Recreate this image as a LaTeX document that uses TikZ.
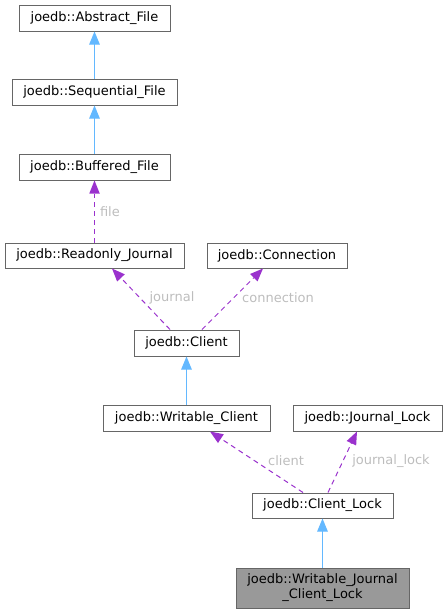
\documentclass[tikz,border=0pt]{standalone}
\usepackage{fontspec}
\setmainfont{DejaVu Sans}
\usetikzlibrary{arrows.meta,calc}
\definecolor{inh}{HTML}{63B8FF}
\definecolor{dep}{HTML}{9A32CD}
\definecolor{lbl}{HTML}{BDBDBD}
\definecolor{bord}{HTML}{666666}
\tikzset{
  cls/.style={draw=bord, line width=1pt, fill=white, inner sep=0pt, align=center, font=\fontsize{13}{15}\selectfont},
  inhe/.style={draw=inh, line width=1pt, -{Triangle[length=13pt,width=10.5pt]}},
  depe/.style={draw=dep, line width=1pt, dash pattern=on 5pt off 4pt, -{Triangle[length=13pt,width=10.5pt,fill=dep,line width=0pt]}},
  elbl/.style={text=lbl, font=\fontsize{13}{15}\selectfont, inner sep=0pt}
}
\begin{document}
\begin{tikzpicture}[x=1pt,y=-1pt]
\useasboundingbox (0,0) rectangle (447,613);
\node[cls, minimum width=151pt, minimum height=26pt] (abs) at (94.5,18) {joedb::Abstract\_File};
\node[cls, minimum width=165pt, minimum height=26pt] (seq) at (94.5,92) {joedb::Sequential\_File};
\node[cls, minimum width=151pt, minimum height=26pt] (buf) at (94.5,167) {joedb::Buffered\_File};
\node[cls, minimum width=179pt, minimum height=25pt] (ro) at (94.5,255.5) {joedb::Readonly\_Journal};
\node[cls, minimum width=140pt, minimum height=25pt] (conn) at (277,255.5) {joedb::Connection};
\node[cls, minimum width=105pt, minimum height=26pt] (client) at (186.5,343) {joedb::Client};
\node[cls, minimum width=167pt, minimum height=26pt] (wc) at (186.5,418) {joedb::Writable\_Client};
\node[cls, minimum width=149pt, minimum height=26pt] (jl) at (367.5,418) {joedb::Journal\_Lock};
\node[cls, minimum width=141pt, minimum height=25pt] (cl) at (322.5,505.5) {joedb::Client\_Lock};
\node[cls, fill=black!40, minimum width=173pt, minimum height=40pt] (wjcl) at (322.5,588) {joedb::Writable\_Journal\\\_Client\_Lock};

\draw[inhe] (seq.north) -- (abs.south);
\draw[inhe] (buf.north) -- (seq.south);
\draw[depe] (ro.north) -- node[elbl, right=5pt, pos=0.5] {file} (buf.south);
\draw[depe] ($(client.north)+(-16.5,0)$) -- ($(ro.south)+(17.5,0)$);
\draw[depe] ($(client.north)+(15.5,0)$) -- ($(conn.south)+(-14,0)$);
\node[elbl] (ljournal) at (172,298) {journal};
\node[elbl] (lconn) at (278,298) {connection};
\draw[inhe] (wc.north) -- (client.south);
\draw[depe] ($(cl.north)+(-19.5,0)$) -- ($(wc.south)+(23.5,0)$);
\draw[depe] ($(cl.north)+(5.5,0)$) -- ($(jl.south)+(-10.5,0)$);
\node[elbl] (lclient) at (286,461) {client};
\node[elbl] (ljl) at (391,461) {journal\_lock};
\draw[inhe] (wjcl.north) -- (cl.south);
\end{tikzpicture}
\end{document}
